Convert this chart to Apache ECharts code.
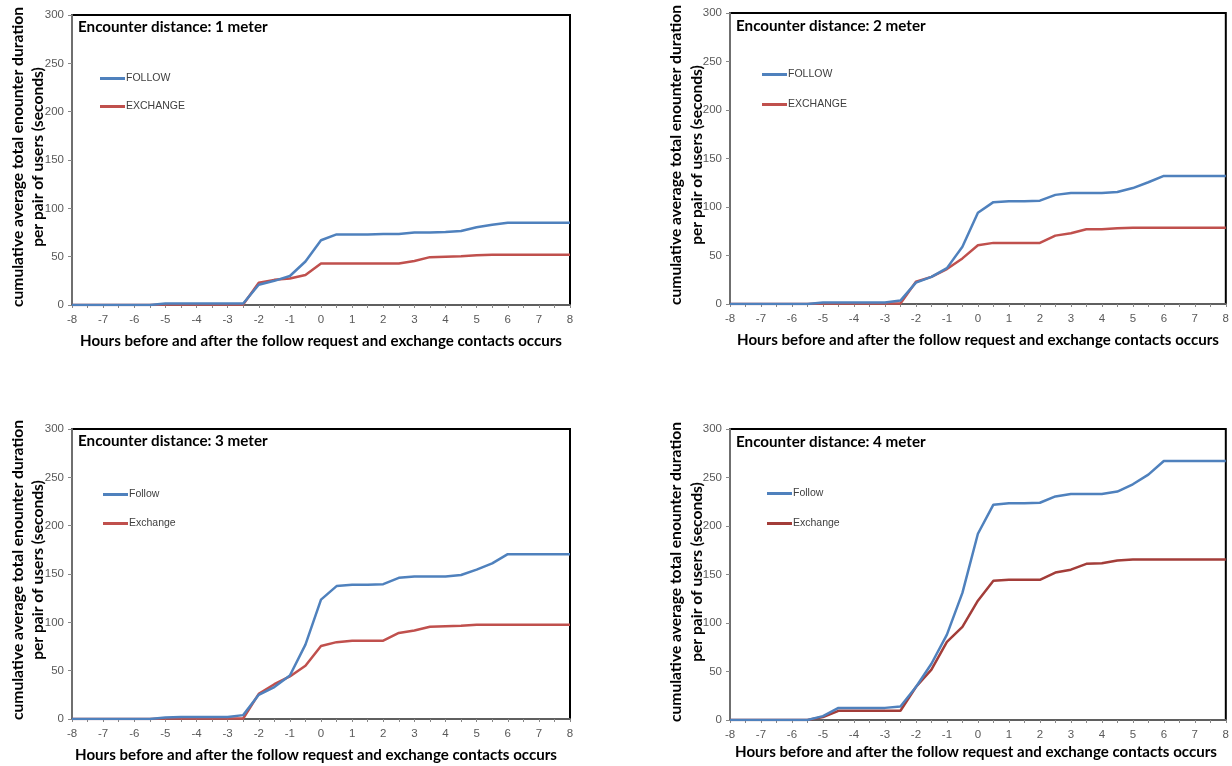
<!DOCTYPE html>
<html>
<head>
<meta charset="utf-8">
<script src="https://cdn.jsdelivr.net/npm/echarts@6/dist/echarts.min.js"></script>
<style>
html,body{margin:0;padding:0;background:#fff;}
#chart{width:1232px;height:766px;}
</style>
</head>
<body>
<div id="chart"></div>
<script>
// Hours relative to event (category axis)
const hours = ['-8','-7.5','-7','-6.5','-6','-5.5','-5','-4.5','-4','-3.5','-3','-2.5','-2','-1.5','-1','-0.5','0','0.5','1','1.5','2','2.5','3','3.5','4','4.5','5','5.5','6','6.5','7','7.5','8'];
const yTicks = [0, 50, 100, 150, 200, 250, 300];

const panelTitles = ['Encounter distance: 1 meter','Encounter distance: 2 meter','Encounter distance: 3 meter','Encounter distance: 4 meter'];
const followNames = ['FOLLOW','FOLLOW','Follow','Follow'];
const exchangeNames = ['EXCHANGE','EXCHANGE','Exchange','Exchange'];

const follow1   = [0,0,0,0,0,0, 1.5,1.5,1.5,1.5,1.5,1.5, 21,25,30,45,67,73,73,73,73.5,73.5,75,75,75.5,76.5,80.5,83,85,85,85,85,85];
const exchange1 = [0,0,0,0,0,0, 0.5,0.5,0.5,0.5,0.5,0.5, 23,26,27.5,31,43,43,43,43,43,43,45.5,49.5,50,50.5,51.5,52,52,52,52,52,52];
const follow2   = [0,0,0,0,0,0, 1.5,1.5,1.5,1.5,1.5,3.5, 22,28,37,59,94,105,106,106,106.5,112.5,114.5,114.5,114.5,115.5,119.5,125.5,132,132,132,132,132];
const exchange2 = [0,0,0,0,0,0, 0.5,0.5,0.5,0.5,0.5,0.5, 23,28,36,47,60.5,63,63,63,63,70.5,73,77,77,78,78.5,78.5,78.5,78.5,78.5,78.5,78.5];
const follow3   = [0,0,0,0,0,0, 1.5,2,2,2,2,4, 25,33,45,77,123.5,137.5,139,139,139.5,146,147.5,147.5,147.5,149,154.5,161,170.5,170.5,170.5,170.5,170.5];
const exchange3 = [0,0,0,0,0,0, 0.5,0.5,0.5,0.5,0.5,0.5, 26,36,44,55,75.5,79.5,81,81,81,89,91.5,95.5,96,96.5,97.5,97.5,97.5,97.5,97.5,97.5,97.5];
const follow4   = [0,0,0,0,0,0, 4,12.5,12.5,12.5,12.5,14, 34,58,88,131,192,222,223.5,223.5,224,230.5,233,233,233,235.5,243,253,267,267,267,267,267];
const exchange4 = [0,0,0,0,0,0, 3,9.5,9.5,9.5,9.5,9.5, 34,52,80.5,96,123,143.5,144.5,144.5,144.5,152,155,161,161.5,164.5,165.5,165.5,165.5,165.5,165.5,165.5,165.5];

const followData = [follow1, follow2, follow3, follow4];
const exchangeData = [exchange1, exchange2, exchange3, exchange4];

const BLUE = '#4f81bd';
const REDS = ['#c0504d','#c0504d','#c0504d','#a33d39'];

const grids = [
  {left:72, top:15, width:498, height:290},
  {left:730, top:13, width:498, height:291},
  {left:72, top:429, width:498, height:290},
  {left:730, top:429, width:498, height:291}
];
const legendPos = [
  {left:100, top:73, gap:17},
  {left:762, top:69, gap:19},
  {left:103, top:489, gap:18},
  {left:767, top:488, gap:19}
];
const innerTitlePos = [[78,30],[736,29],[78,444],[736,445]];
const xTitlePos = [[321,341],[978,340],[316,755],[976,752]];
const yTitlePos = [[18,38,157],[676,697,155],[18,38,570],[676,697,572]];

const TITLE_FONT = 'Lato, "Liberation Sans", sans-serif';
const LABEL_FONT = '"Liberation Sans", Arial, sans-serif';

const option = {
  animation:false,
  backgroundColor:'#fff',
  grid: grids.map(g => ({...g, show:true, borderColor:'#000', borderWidth:2, backgroundColor:'transparent', containLabel:false})),
  xAxis: grids.map((g,i) => ({
    type:'category', gridIndex:i, data:hours, boundaryGap:false,
    axisLine:{show:true, lineStyle:{color:'#5f5f5f', width:2}},
    axisTick:{show:true, interval:0, length:3, lineStyle:{color:'#888'}},
    axisLabel:{interval:1, color:'#595959', fontSize:11.5, fontFamily:LABEL_FONT, margin:9},
    splitLine:{show:false}
  })),
  yAxis: grids.map((g,i) => ({
    type:'value', gridIndex:i, min:yTicks[0], max:yTicks[yTicks.length-1], interval:50,
    axisLine:{show:true, lineStyle:{color:'#6f6f6f', width:2}},
    axisTick:{show:true, length:4, lineStyle:{color:'#888'}},
    axisLabel:{color:'#595959', fontSize:11.5, fontFamily:LABEL_FONT, margin:8},
    splitLine:{show:false}
  })),
  legend: legendPos.map((p,i) => ({
    left:p.left, top:p.top, orient:'vertical', itemGap:p.gap, padding:0,
    itemWidth:25, itemHeight:3, icon:'rect',
    textStyle:{color:'#404040', fontSize:10.5, fontFamily:LABEL_FONT, padding:[0,0,0,-4]},
    selectedMode:false,
    data:[
      {name:followNames[i], itemStyle:{color:BLUE}},
      {name:exchangeNames[i], itemStyle:{color:REDS[i]}}
    ]
  })),
  series: [],
  graphic: []
};

for (let i=0;i<4;i++){
  option.series.push({
    type:'line', name:followNames[i], xAxisIndex:i, yAxisIndex:i, data:followData[i],
    symbol:'none', lineStyle:{color:BLUE, width:2.5}, itemStyle:{color:BLUE}, z:3
  });
  option.series.push({
    type:'line', name:exchangeNames[i], xAxisIndex:i, yAxisIndex:i, data:exchangeData[i],
    symbol:'none', lineStyle:{color:REDS[i], width:2.5}, itemStyle:{color:REDS[i]}, z:2
  });
  option.graphic.push({
    type:'text', left:innerTitlePos[i][0], top:innerTitlePos[i][1]-10,
    style:{text:panelTitles[i], font:'bold 15.2px '+TITLE_FONT, fill:'#000'}
  });
  option.graphic.push({
    type:'text', x:xTitlePos[i][0], y:xTitlePos[i][1],
    style:{text:'Hours before and after the follow request and exchange contacts occurs', font:'bold 15.1px '+TITLE_FONT, fill:'#000', textAlign:'center', textVerticalAlign:'middle'}
  });
  option.graphic.push({
    type:'text', x:yTitlePos[i][0], y:yTitlePos[i][2], rotation:Math.PI/2,
    style:{text:'cumulative average total enounter duration', font:'bold 15.6px '+TITLE_FONT, fill:'#000', textAlign:'center', textVerticalAlign:'middle'}
  });
  option.graphic.push({
    type:'text', x:yTitlePos[i][1], y:yTitlePos[i][2], rotation:Math.PI/2,
    style:{text:'per pair of users (seconds)', font:'bold 15.6px '+TITLE_FONT, fill:'#000', textAlign:'center', textVerticalAlign:'middle'}
  });
}

const chart = echarts.init(document.getElementById('chart'), null, {renderer:'canvas'});
chart.setOption(option);
</script>
</body>
</html>
